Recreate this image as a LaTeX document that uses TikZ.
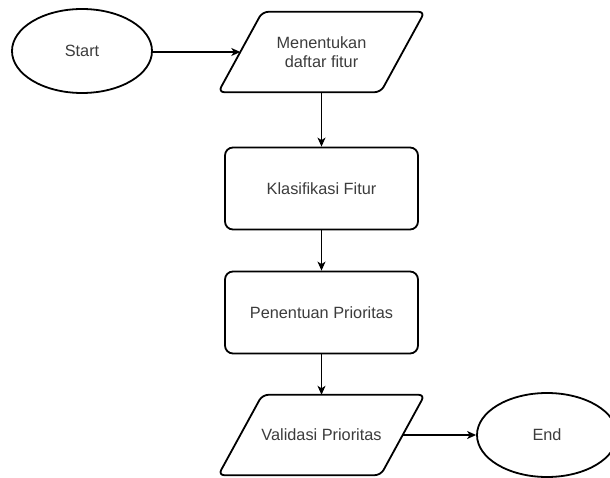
\documentclass[tikz,border=0pt]{standalone}
\usepackage{fontspec}
\setmainfont{Liberation Sans}
\usetikzlibrary{shapes.geometric,arrows.meta}
\definecolor{txt}{RGB}{60,60,60}
\tikzset{
  outline/.style={draw=black, line width=1.8pt, fill=white},
  label/.style={text=txt, font=\fontsize{16.3}{19}\selectfont,
    align=center, inner sep=0pt},
  terminal/.style={outline, label, ellipse,
    minimum width=140pt, minimum height=84pt},
  process/.style={outline, label, rectangle, rounded corners=8pt,
    minimum width=193pt, minimum height=82pt},
  % parallelogram body: an undrawn box whose west/east anchors sit on
  % the midpoints of the slanted sides
  io/.style={label, rectangle, minimum width=162pt, minimum height=80pt},
  ioframe/.style={outline, rounded corners=6pt},
  flow/.style={draw=black, line width=1.2pt,
    -{Stealth[length=9pt, width=8pt, inset=2.5pt]}}
}
% parallelogram outline around an io node, slanted by #2 at each end
\newcommand{\ioshape}[2]{%
  \draw[ioframe] (#1.north) -- ([xshift=#2]#1.north east)
    -- ([xshift=-#2]#1.south east) -- ([xshift=-#2]#1.south west)
    -- ([xshift=#2]#1.north west) -- (#1.north);}
\begin{document}
\begin{tikzpicture}[x=1pt, y=-1pt]
  \useasboundingbox (0,0) rectangle (610,478);
  \node[terminal] (start) at (82,51) {Start};
  \node[io] (list) at (321.5,52) {};
  \ioshape{list}{22pt}
  \node[label] (list-text) at (list.center) {Menentukan\\daftar fitur};
  \node[process] (klas) at (321.5,188.5) {Klasifikasi Fitur};
  \node[process] (prio) at (321.5,312.5) {Penentuan Prioritas};
  \node[io] (valid) at (321.5,435) {};
  \ioshape{valid}{22pt}
  \node[label] (valid-text) at (valid.center) {Validasi Prioritas};
  \node[terminal] (end) at (547,435) {End};
  \draw[flow] (start.east |- list.west) -- (list.west);
  \draw[flow] (list.south) -- (klas.north);
  \draw[flow] (klas.south) -- (prio.north);
  \draw[flow] (prio.south) -- (valid.north);
  \draw[flow] (valid.east) -- (end.west);
\end{tikzpicture}
\end{document}
